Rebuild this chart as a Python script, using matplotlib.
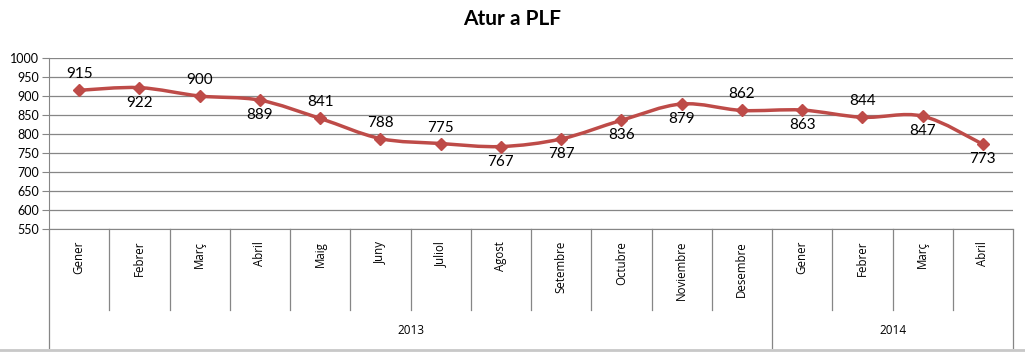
import matplotlib
matplotlib.use("Agg")
import matplotlib.pyplot as plt
from matplotlib.path import Path
from matplotlib.patches import PathPatch
from matplotlib.lines import Line2D
import numpy as np

months = ["Gener", "Febrer", "Març", "Abril", "Maig", "Juny", "Juliol", "Agost",
          "Setembre", "Octubre", "Noviembre", "Desembre", "Gener", "Febrer", "Març", "Abril"]
years = ["2013", "2014"]
year_counts = [12, 4]
values = [915, 922, 900, 889, 841, 788, 775, 767, 787, 836, 879, 862, 863, 844, 847, 773]
label_above = [True, False, True, False, True, True, True, False, False, False, False, True, False, True, False, False]

plt.rcParams['font.family'] = ['Lato', 'DejaVu Sans']
RED = "#BE4B48"
GRID = "#868686"

fig = plt.figure(figsize=(10.25, 3.52), dpi=100)
ax = fig.add_axes([49/1025, 1-229/352, (1013-49)/1025, (229-58)/352])
ax.set_xlim(-0.5, len(months)-0.5)
ax.set_ylim(550, 1000)
ax.set_yticks(np.arange(550, 1001, 50))
ax.yaxis.grid(True, color=GRID, lw=0.9)
ax.set_axisbelow(True)
for s in ["top", "right"]:
    ax.spines[s].set_visible(False)
for s in ["left", "bottom"]:
    ax.spines[s].set_color(GRID)
ax.tick_params(axis="y", length=5, color=GRID, labelsize=9, pad=2, labelcolor="#000000")
ax.set_xticks([])

# smooth line (Catmull-Rom -> Bezier)
x = np.arange(len(values), dtype=float)
y = np.array(values, dtype=float)
P = np.column_stack([x, y])
Pext = np.vstack([P[0], P, P[-1]])
verts = [tuple(P[0])]
codes = [Path.MOVETO]
for i in range(len(P)-1):
    p0, p1, p2, p3 = Pext[i], Pext[i+1], Pext[i+2], Pext[i+3]
    c1 = p1 + (p2 - p0)/6
    c2 = p2 - (p3 - p1)/6
    verts += [tuple(c1), tuple(c2), tuple(p2)]
    codes += [Path.CURVE4]*3
ax.add_patch(PathPatch(Path(verts, codes), facecolor="none", edgecolor=RED, lw=2.5, zorder=3))
ax.plot(x, y, linestyle="none", marker="D", markersize=6, color=RED, zorder=4)

for xi, v, up in zip(x, values, label_above):
    ax.annotate(str(v), (xi, v), textcoords="offset pixels", xytext=(0, 16 if up else -15),
                ha="center", va="center", fontsize=11, color="#000000")

# category axis
tr = ax.get_xaxis_transform()
h = 229-58
def ay(py):
    return (229-py)/h
for i, m in enumerate(months):
    ax.text(i, ay(241), m, rotation=90, ha="center", va="top", fontsize=8.3,
            family=["Open Sans", "DejaVu Sans"], transform=tr)
# separators
boundaries = np.cumsum(year_counts)
for b in range(1, len(months)):
    yb = ay(348) if b in boundaries else ay(310)
    ax.add_line(Line2D([b-0.5, b-0.5], [0, yb], transform=tr, color=GRID, lw=0.9, clip_on=False))
for b in [-0.5, len(months)-0.5]:
    ax.add_line(Line2D([b, b], [0, ay(348)], transform=tr, color=GRID, lw=0.9, clip_on=False))
start = 0
for yr, n in zip(years, year_counts):
    ax.text(start + (n-1)/2, ay(331), yr, ha="center", va="center", fontsize=8.5,
            family=["Open Sans", "DejaVu Sans"], transform=tr)
    start += n

fig.text(0.5, 1-19/352, "Atur a PLF", ha="center", va="center", fontsize=15, fontweight="bold")
fig.add_artist(Line2D([0, 1], [1-350/352, 1-350/352], transform=fig.transFigure, color="#C8C8C8", lw=2))

fig.savefig("out.png", dpi=100)
